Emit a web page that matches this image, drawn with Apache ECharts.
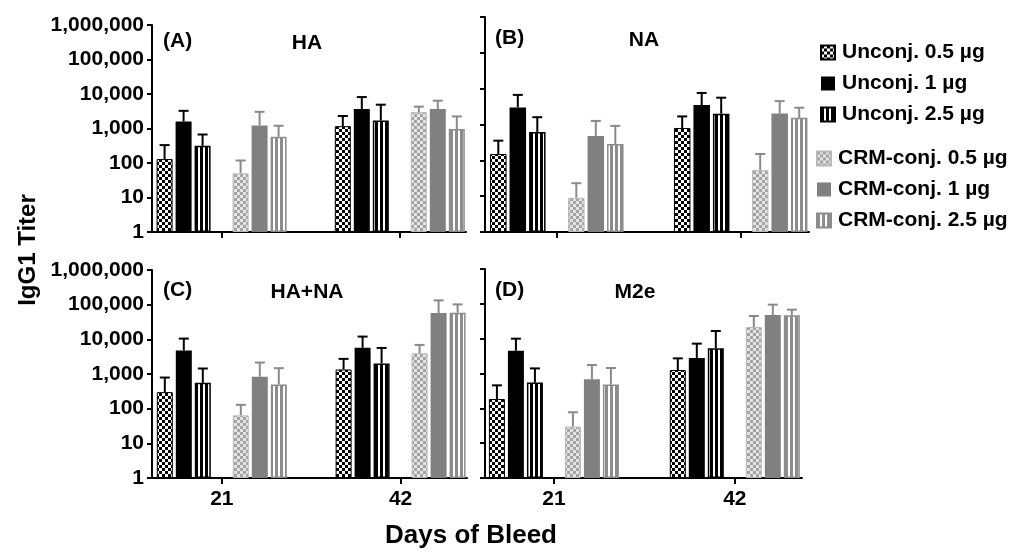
<!DOCTYPE html>
<html>
<head>
<meta charset="utf-8">
<script src="https://cdn.jsdelivr.net/npm/echarts@6/dist/echarts.min.js"></script>
<style>
html, body { margin: 0; padding: 0; background: #fff; }
#chart { width: 1033px; height: 552px; }
</style>
</head>
<body>
<div id="chart"></div>
<script>
// days of bleed (x categories)
var days = [21, 42];
var groupNames = ['Unconj. 0.5 µg', 'Unconj. 1 µg', 'Unconj. 2.5 µg',
                  'CRM-conj. 0.5 µg', 'CRM-conj. 1 µg', 'CRM-conj. 2.5 µg'];
var yTicks = [1, 10, 100, 1000, 10000, 100000, 1000000];

// titers per group: [day 21, day 42]
var haMean  = [[130, 1170], [1600, 3650], [315, 1700], [50, 2990], [1230, 3650], [575, 960]];
var haUpper = [[330, 2300], [3250, 8150], [670, 4900], [118, 4300], [3050, 6400], [1200, 2240]];

var naMean  = [[150, 800], [3000, 3500], [620, 2000], [9, 53], [480, 2030], [285, 1540]];
var naUpper = [[354, 1680], [6700, 7600], [1600, 5600], [23, 150], [1260, 4500], [915, 2940]];

var hanaMean  = [[300, 1350], [4800, 5700], [555, 2000], [64, 3970], [830, 57500], [500, 58800]];
var hanaUpper = [[790, 2730], [10500, 12000], [1440, 5650], [129, 6900], [2140, 133000], [1470, 102000]];

var m2eMean  = [[185, 1260], [4500, 2800], [550, 5300], [30, 21600], [680, 47800], [480, 46700]];
var m2eUpper = [[457, 2720], [10000, 7200], [1400, 16600], [77, 44700], [1750, 94700], [1440, 68000]];

var panelTags   = ['(A)', '(B)', '(C)', '(D)'];
var panelTitles = ['HA', 'NA', 'HA+NA', 'M2e'];
var panelMeans  = [haMean, naMean, hanaMean, m2eMean];
var panelUppers = [haUpper, naUpper, hanaUpper, m2eUpper];

var FONT = 'Liberation Sans, Arial, Helvetica, sans-serif';

function checker(a, b, s) {
    var c = document.createElement('canvas');
    c.width = c.height = s * 2;
    var g = c.getContext('2d');
    g.fillStyle = b; g.fillRect(0, 0, s * 2, s * 2);
    g.fillStyle = a; g.fillRect(0, 0, s, s); g.fillRect(s, s, s, s);
    return { image: c, repeat: 'repeat' };
}
function stripes(a, b, wa, wb) {
    var c = document.createElement('canvas');
    c.width = wa + wb; c.height = 4;
    var g = c.getContext('2d');
    g.fillStyle = b; g.fillRect(0, 0, wa + wb, 4);
    g.fillStyle = a; g.fillRect(0, 0, wa, 4);
    return { image: c, repeat: 'repeat' };
}

var barStyles = [
    { color: checker('#000', '#fff', 3), borderColor: '#000', borderWidth: 1 },
    { color: '#000' },
    { color: stripes('#000', '#fff', 3, 2), borderColor: '#000', borderWidth: 1.5 },
    { color: checker('#a4a4a4', '#e4e4e4', 3), borderColor: '#b8b8b8', borderWidth: 1 },
    { color: '#808080' },
    { color: stripes('#8c8c8c', '#fff', 3, 2), borderColor: '#8c8c8c', borderWidth: 1.5 }
];

// panel frames
var frames = [
    { left: 152, top: 25,  width: 314, height: 207, xMin: 12.8, xMax: 49.8, bw: 16,   gap: 3, yLab: true,  xLab: false },
    { left: 485, top: 17,  width: 324, height: 215, xMin: 12.8, xMax: 49.8, bw: 16.5, gap: 3, yLab: false, xLab: false },
    { left: 152, top: 270, width: 315, height: 208, xMin: 12.8, xMax: 49.8, bw: 16,   gap: 3, yLab: true,  xLab: true },
    { left: 485, top: 269, width: 317, height: 209, xMin: 13.0, xMax: 49.8, bw: 16,   gap: 3, yLab: false, xLab: true }
];

function fmt(v) {
    return Math.round(v).toString().replace(/\B(?=(\d{3})+(?!\d))/g, ',');
}

var grids = [], xAxes = [], yAxes = [], series = [], graphics = [];

frames.forEach(function (f, p) {
    grids.push({ left: f.left, top: f.top, width: f.width, height: f.height, containLabel: false });
    xAxes.push({
        gridIndex: p, type: 'value', min: f.xMin, max: f.xMax,
        axisLine: { show: true, onZero: false, lineStyle: { color: '#000', width: 2 } },
        axisTick: { show: true, customValues: days, length: 6, lineStyle: { color: '#000', width: 2 } },
        axisLabel: { show: f.xLab, customValues: days, margin: 11, color: '#000',
            fontSize: 21, fontWeight: 'bold', fontFamily: FONT },
        splitLine: { show: false }
    });
    yAxes.push({
        gridIndex: p, type: 'log', logBase: 10, min: 1, max: 1000000, splitNumber: 6,
        axisLine: { show: true, lineStyle: { color: '#000', width: 2 } },
        axisTick: { show: true, length: 5, lineStyle: { color: '#000', width: 2 } },
        minorTick: { show: false },
        axisLabel: { show: f.yLab, margin: 8, color: '#000', fontSize: 21, fontWeight: 'bold',
            fontFamily: FONT, formatter: fmt },
        splitLine: { show: false }
    });

    var mean = panelMeans[p], upper = panelUppers[p];
    var pitch = f.bw + f.gap;
    // 7 slots: 3 unconj, blank, 3 CRM
    for (var s = 0; s < 7; s++) {
        var g = s < 3 ? s : s - 1;
        var blank = s === 3;
        series.push({
            type: 'bar', xAxisIndex: p, yAxisIndex: p,
            name: blank ? '' : groupNames[g],
            barWidth: f.bw, barGap: (f.gap / f.bw * 100) + '%',
            itemStyle: blank ? {} : barStyles[g],
            emphasis: { disabled: true },
            data: days.map(function (d, i) { return [d, blank ? '-' : mean[g][i]]; }),
            z: 3
        });
    }
    var errData = [];
    for (var g2 = 0; g2 < 6; g2++) {
        days.forEach(function (d, i) {
            errData.push([d, mean[g2][i], upper[g2][i], g2 < 3 ? g2 : g2 + 1]);
        });
    }
    series.push({
        type: 'custom', xAxisIndex: p, yAxisIndex: p, z: 2,
        encode: { x: 0, y: [1, 2] },
        data: errData,
        renderItem: (function (pitch) {
            return function (params, api) {
                var x = api.value(0), slot = api.value(3);
                var p0 = api.coord([x, api.value(1)]);
                var p1 = api.coord([x, api.value(2)]);
                var cx = p0[0] + (slot - 3) * pitch;
                var col = slot < 3 ? '#000' : '#8a8a8a';
                return { type: 'group', children: [
                    { type: 'line', shape: { x1: cx, y1: p0[1], x2: cx, y2: p1[1] },
                      style: { stroke: col, lineWidth: 2 } },
                    { type: 'line', shape: { x1: cx - 5, y1: p1[1], x2: cx + 5, y2: p1[1] },
                      style: { stroke: col, lineWidth: 2 } }
                ] };
            };
        })(pitch)
    });
});

// panel labels
var tagPos = [[163, 43], [495, 40], [163, 292], [495, 292]];
var titlePos = [[307, 43], [644, 40], [307, 292], [635, 292]];
tagPos.forEach(function (t, p) {
    graphics.push({ type: 'text', left: t[0], top: t[1] - 12,
        style: { text: panelTags[p], font: 'bold 21px ' + FONT, fill: '#000' } });
    graphics.push({ type: 'text', x: titlePos[p][0], y: titlePos[p][1],
        style: { text: panelTitles[p], font: 'bold 21px ' + FONT, fill: '#000',
                 align: 'center', verticalAlign: 'middle' } });
});
graphics.push({ type: 'text', x: 28, y: 250, rotation: Math.PI / 2,
    style: { text: 'IgG1 Titer', font: 'bold 24px ' + FONT, fill: '#000',
             align: 'center', verticalAlign: 'middle' } });
graphics.push({ type: 'text', x: 471, y: 536,
    style: { text: 'Days of Bleed', font: 'bold 26px ' + FONT, fill: '#000',
             align: 'center', verticalAlign: 'middle' } });

var legendText = { fontSize: 21, fontWeight: 'bold', color: '#000', fontFamily: FONT, lineHeight: 20,
    padding: [0, 0, 0, 2] };

var option = {
    animation: false,
    backgroundColor: '#fff',
    grid: grids,
    xAxis: xAxes,
    yAxis: yAxes,
    legend: [
        { data: groupNames.slice(0, 3), orient: 'vertical', left: 815, top: 37, icon: 'rect',
          itemWidth: 14, itemHeight: 14, itemGap: 10, selectedMode: false, textStyle: legendText },
        { data: groupNames.slice(3), orient: 'vertical', left: 811, top: 143, icon: 'rect',
          itemWidth: 14, itemHeight: 14, itemGap: 10, selectedMode: false, textStyle: legendText }
    ],
    graphic: graphics,
    series: series
};

var chart = echarts.init(document.getElementById('chart'));
chart.setOption(option);
</script>
</body>
</html>
